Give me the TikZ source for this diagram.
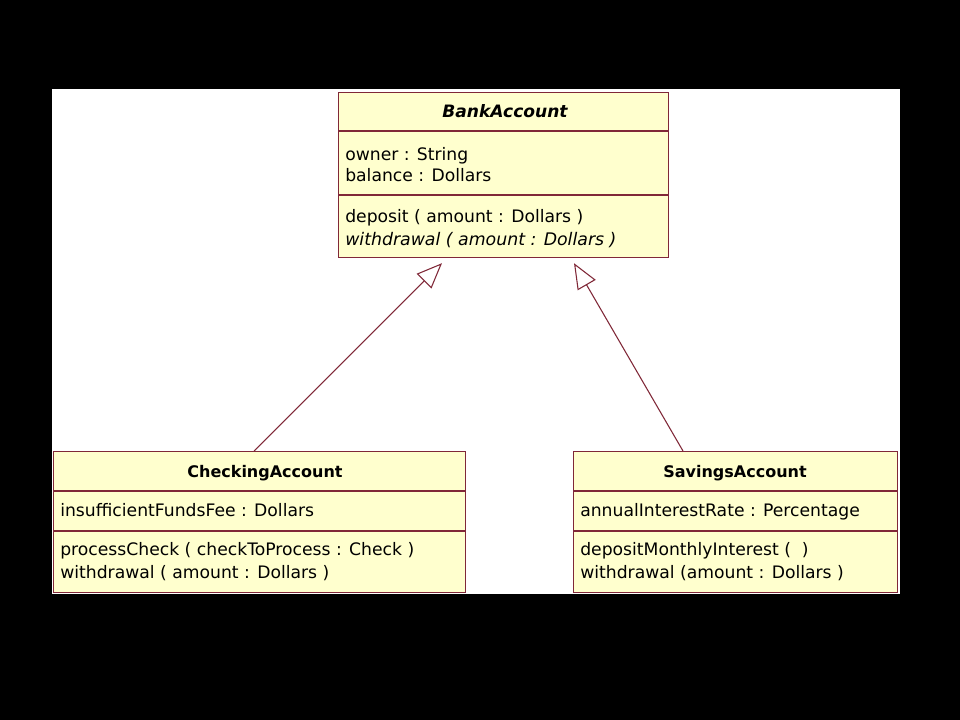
\documentclass[tikz,border=0pt]{standalone}
\usepackage{fontspec}
\setmainfont{DejaVu Sans}
\usetikzlibrary{arrows.meta,calc}
\definecolor{clsfill}{RGB}{255,255,206}
\definecolor{clsline}{RGB}{128,40,56}
\tikzset{
  clsbox/.style={draw=clsline, fill=clsfill, line width=0.9pt, inner sep=0pt, anchor=north west},
  divider/.style={draw=clsline, line width=0.9pt},
  member/.style={anchor=base west, inner sep=0pt, font=\fontsize{12.9}{14}\selectfont},
  title/.style={anchor=base, inner sep=0pt, font=\fontsize{12}{14}\selectfont\bfseries},
  inh/.style={draw=clsline, line width=0.8pt, -{Triangle[open, length=19pt, width=15.5pt, line width=0.8pt]}}
}
\begin{document}
\begin{tikzpicture}[x=0.75pt, y=-0.75pt]
\useasboundingbox (0,0) rectangle (960,720);
\fill[black] (0,0) rectangle (960,720);
\fill[white] (52,89) rectangle (900,594);

% BankAccount
\node[clsbox, minimum width={330*0.75pt}, minimum height={165*0.75pt}] (bank) at (338,92) {};
\draw[divider] (bank.west |- 0,131) -- (bank.east |- 0,131);
\draw[divider] (bank.west |- 0,195) -- (bank.east |- 0,195);
\node[title, font=\fontsize{12.8}{14}\selectfont\bfseries\itshape] (bankT) at (505,118) {BankAccount};
\node[member] (bankA1) at (345,161) {owner : String};
\node[member] (bankA2) at (345,182) {balance : Dollars};
\node[member] (bankO1) at (345,223) {deposit ( amount : Dollars )};
\node[member, font=\fontsize{13}{14}\selectfont\itshape] (bankO2) at (345,246) {withdrawal ( amount : Dollars )};

% CheckingAccount
\node[clsbox, minimum width={412*0.75pt}, minimum height={141*0.75pt}] (chk) at (53,451) {};
\draw[divider] (chk.west |- 0,491) -- (chk.east |- 0,491);
\draw[divider] (chk.west |- 0,531) -- (chk.east |- 0,531);
\node[title] (chkT) at (265,477) {CheckingAccount};
\node[member] (chkA1) at (60,516) {insufficientFundsFee : Dollars};
\node[member] (chkO1) at (60,555) {processCheck ( checkToProcess : Check )};
\node[member] (chkO2) at (60,578) {withdrawal ( amount : Dollars )};

% SavingsAccount
\node[clsbox, minimum width={324*0.75pt}, minimum height={141*0.75pt}] (sav) at (573,451) {};
\draw[divider] (sav.west |- 0,491) -- (sav.east |- 0,491);
\draw[divider] (sav.west |- 0,531) -- (sav.east |- 0,531);
\node[title] (savT) at (735,477) {SavingsAccount};
\node[member] (savA1) at (580,516) {annualInterestRate : Percentage};
\node[member] (savO1) at (580,555) {depositMonthlyInterest (\ \ )};
\node[member] (savO2) at (580,578) {withdrawal (amount : Dollars )};

% generalizations
\coordinate (chkEnd) at ($(chk.north west)+(201,0)$);
\coordinate (savEnd) at ($(sav.north west)+(110,0)$);
\coordinate (bankL) at ($(bank.south west)+(104,5)$);
\coordinate (bankR) at ($(bank.south west)+(236,5)$);
\draw[inh] (chkEnd) -- (bankL);
\draw[inh] (savEnd) -- (bankR);
\end{tikzpicture}
\end{document}
